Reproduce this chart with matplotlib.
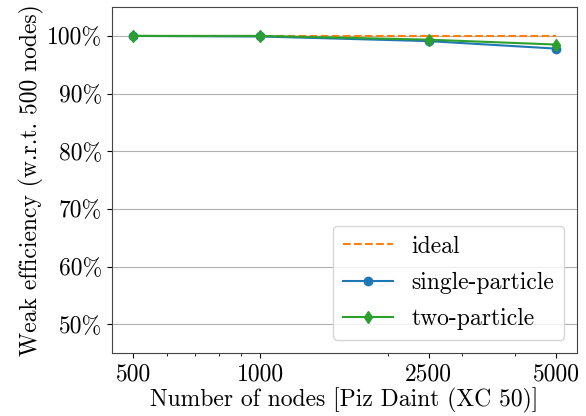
import numpy as np
import matplotlib
matplotlib.use('Agg')
import matplotlib.pyplot as plt
from matplotlib.ticker import PercentFormatter, FixedLocator, NullFormatter

plt.rcParams['font.family'] = 'serif'
plt.rcParams['font.serif'] = ['cmr10']
plt.rcParams['mathtext.fontset'] = 'cm'
plt.rcParams['axes.unicode_minus'] = False
plt.rcParams['axes.formatter.use_mathtext'] = True

# weak scaling data (efficiency relative to 500 nodes)
nodes = [500, 1000, 2500, 5000]
ideal = [1.0, 1.0, 1.0, 1.0]
single = [1.0, 0.999, 0.991, 0.978]
two = [1.0, 1.0, 0.9935, 0.985]

fig, ax = plt.subplots(figsize=(5.86, 4.16), dpi=100)
ax.plot(nodes, ideal, '--', color='tab:orange', label='ideal')
ax.plot(nodes, single, '-o', color='tab:blue', label='single-particle')
ax.plot(nodes, two, '-d', color='tab:green', label='two-particle')

ax.set_xscale('log')
ax.xaxis.set_major_locator(FixedLocator(nodes))
ax.set_xticklabels([str(n) for n in nodes])
ax.xaxis.set_minor_formatter(NullFormatter())
ax.set_ylim(0.45, 1.05)
ax.set_yticks([0.5, 0.6, 0.7, 0.8, 0.9, 1.0])
ax.yaxis.set_major_formatter(PercentFormatter(1.0, decimals=0))
ax.grid(axis='y', color='#b0b0b0')

for s in ax.spines.values():
    s.set_color('#444444')

ax.tick_params(labelsize=17)
ax.set_xlabel('Number of nodes [Piz Daint (XC 50)]', fontsize=17, labelpad=2)
ax.set_ylabel('Weak efficiency (w.r.t. 500 nodes)', fontsize=17, labelpad=2)
ax.legend(loc='lower right', fontsize=17, labelspacing=0.6, handlelength=2.1,
          borderpad=0.42, borderaxespad=0.55)

plt.subplots_adjust(left=0.191, right=0.985, top=0.983, bottom=0.151)
plt.savefig('out.png')
